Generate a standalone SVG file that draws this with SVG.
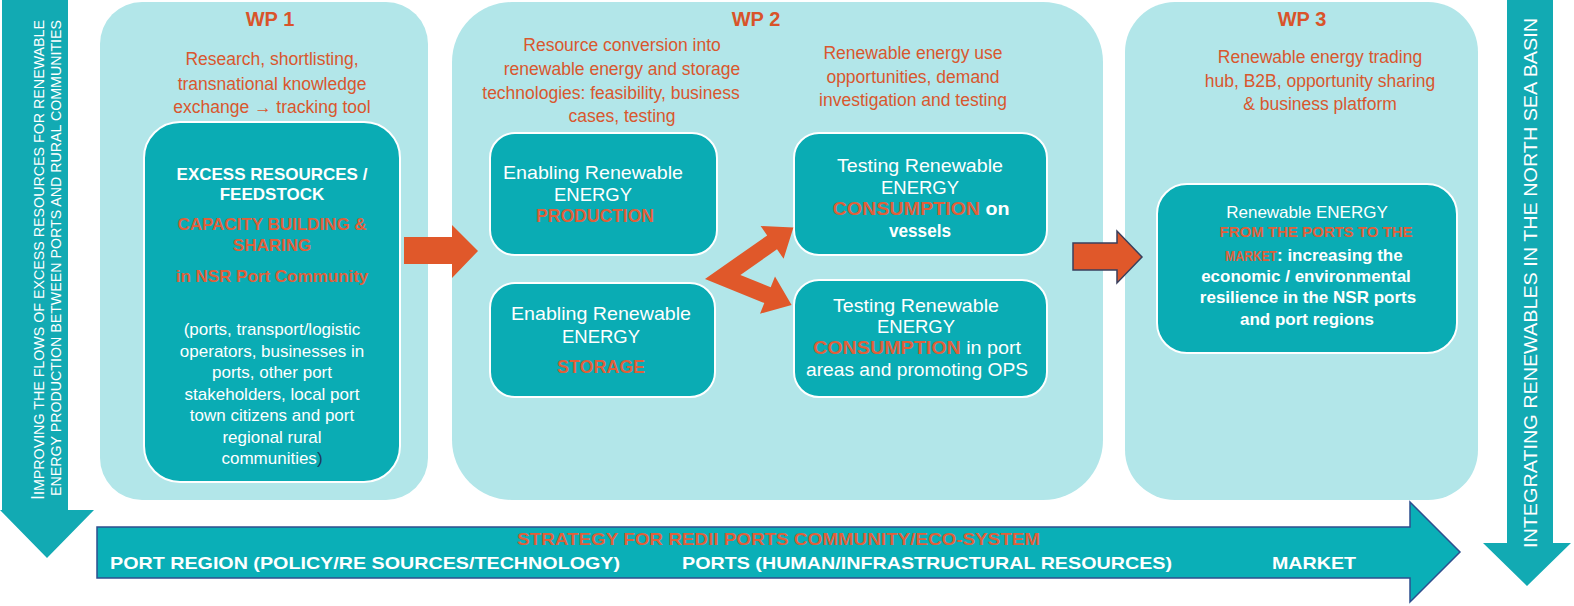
<svg xmlns="http://www.w3.org/2000/svg" width="1574" height="606" viewBox="0 0 1574 606">
<style>
  .panel { fill: #b2e6e9; }
  .box { fill: #0aacb4; stroke: #ffffff; stroke-width: 2; }
  .t { font-family: "Liberation Sans", Arial, sans-serif; }
  .head { font-family: "Liberation Sans", Arial, sans-serif; font-weight: bold; font-size: 20px; fill: #d9542a; text-anchor: middle; }
  .sub { font-family: "Liberation Sans", Arial, sans-serif; font-size: 17.5px; fill: #d9572e; text-anchor: middle; }
  .w { fill: #ffffff; }
  .wb { fill: #ffffff; font-weight: bold; }
  .ob { fill: #e0603a; font-weight: bold; }
  .mid { text-anchor: middle; }
  .orangeArrow { fill: #e0582a; }
</style>

<!-- side arrows -->
<g id="left-arrow">
  <polygon points="2,0 68,0 68,510 94,510 47,558 0,510 2,510" fill="#12aab3"/>
  <text class="t w" font-size="14.5" transform="translate(44,260) rotate(-90)" text-anchor="middle" textLength="480" lengthAdjust="spacingAndGlyphs"><tspan font-size="18">I</tspan>IMPROVING THE FLOWS OF EXCESS RESOURCES FOR RENEWABLE</text>
  <text class="t w" font-size="14.5" transform="translate(61,258) rotate(-90)" text-anchor="middle" textLength="476" lengthAdjust="spacingAndGlyphs">ENERGY  PRODUCTION BETWEEN PORTS AND RURAL COMMUNITIES</text>
</g>
<g id="right-arrow">
  <polygon points="1507,0 1553,0 1553,543 1571,543 1527,586 1483,543 1507,543" fill="#12aab3"/>
  <text class="t w" font-size="18" transform="translate(1537,283) rotate(-90)" text-anchor="middle" textLength="530" lengthAdjust="spacingAndGlyphs">INTEGRATING RENEWABLES IN THE NORTH SEA BASIN</text>
</g>

<!-- WP panels -->
<g id="wp1">
  <rect class="panel" x="100" y="2" width="328" height="498" rx="42"/>
  <text class="head" x="270" y="26">WP 1</text>
  <text class="sub" x="272" y="65">Research, shortlisting,</text>
  <text class="sub" x="272" y="90">transnational knowledge</text>
  <text class="sub" x="272" y="113">exchange → tracking tool</text>
</g>
<g id="wp2">
  <rect class="panel" x="452" y="2" width="651" height="498" rx="60"/>
  <text class="head" x="756" y="26">WP 2</text>
  <text class="sub" font-size="17" x="622" y="51">Resource conversion into</text>
  <text class="sub" font-size="17" x="622" y="75">renewable energy and storage</text>
  <text class="sub" font-size="17" x="611" y="99">technologies: feasibility, business</text>
  <text class="sub" font-size="17" x="622" y="122">cases, testing</text>
  <text class="sub" font-size="17" x="913" y="59">Renewable energy use</text>
  <text class="sub" font-size="17" x="913" y="83">opportunities, demand</text>
  <text class="sub" font-size="17" x="913" y="106">investigation and testing</text>
</g>
<g id="wp3">
  <rect class="panel" x="1125" y="2" width="353" height="498" rx="50"/>
  <text class="head" x="1302" y="26">WP 3</text>
  <text class="sub" font-size="17" x="1320" y="63">Renewable energy trading</text>
  <text class="sub" font-size="17" x="1320" y="87">hub, B2B, opportunity sharing</text>
  <text class="sub" font-size="17" x="1320" y="110">&amp; business platform</text>
</g>

<!-- inner nodes -->
<g id="excess-resources">
  <rect class="box" x="144" y="122" width="256" height="360" rx="36"/>
  <text class="t wb mid" font-size="17" x="272" y="180">EXCESS RESOURCES /</text>
  <text class="t wb mid" font-size="17" x="272" y="200">FEEDSTOCK</text>
  <text class="t ob mid" font-size="17" x="272" y="230">CAPACITY BUILDING &amp;</text>
  <text class="t ob mid" font-size="17" x="272" y="251">SHARING</text>
  <text class="t ob mid" font-size="17" x="272" y="282">in NSR Port Community</text>
  <text class="t w mid" font-size="17" x="272" y="335">(ports, transport/logistic</text>
  <text class="t w mid" font-size="17" x="272" y="357">operators, businesses in</text>
  <text class="t w mid" font-size="17" x="272" y="378">ports, other port</text>
  <text class="t w mid" font-size="17" x="272" y="400">stakeholders, local port</text>
  <text class="t w mid" font-size="17" x="272" y="421">town citizens and port</text>
  <text class="t w mid" font-size="17" x="272" y="443">regional rural</text>
  <text class="t w mid" font-size="17" x="272" y="464">communities<tspan fill="#1f3b5a">)</tspan></text>
</g>
<g id="production">
  <rect class="box" x="490" y="133" width="227" height="122" rx="25"/>
  <text class="t w mid" font-size="18.5" x="593" y="179" textLength="180" lengthAdjust="spacingAndGlyphs">Enabling Renewable</text>
  <text class="t w mid" font-size="18.5" x="593" y="201" textLength="78" lengthAdjust="spacingAndGlyphs">ENERGY</text>
  <text class="t ob mid" font-size="18.5" x="595" y="222" textLength="118" lengthAdjust="spacingAndGlyphs">PRODUCTION</text>
</g>
<g id="storage">
  <rect class="box" x="490" y="283" width="225" height="114" rx="25"/>
  <text class="t w mid" font-size="18.5" x="601" y="320" textLength="180" lengthAdjust="spacingAndGlyphs">Enabling Renewable</text>
  <text class="t w mid" font-size="18.5" x="601" y="343" textLength="78" lengthAdjust="spacingAndGlyphs">ENERGY</text>
  <text class="t ob mid" font-size="18.5" x="601" y="373" textLength="88" lengthAdjust="spacingAndGlyphs">STORAGE</text>
</g>
<g id="consumption-vessels">
  <rect class="box" x="794" y="133" width="253" height="122" rx="25"/>
  <text class="t w mid" font-size="18.5" x="920" y="172" textLength="166" lengthAdjust="spacingAndGlyphs">Testing Renewable</text>
  <text class="t w mid" font-size="18.5" x="920" y="194" textLength="78" lengthAdjust="spacingAndGlyphs">ENERGY</text>
  <text class="t mid" font-size="18.5" x="921" y="215" textLength="177" lengthAdjust="spacingAndGlyphs"><tspan class="ob">CONSUMPTION</tspan><tspan class="wb"> on</tspan></text>
  <text class="t wb mid" font-size="18.5" x="920" y="237" textLength="62" lengthAdjust="spacingAndGlyphs">vessels</text>
</g>
<g id="consumption-port">
  <rect class="box" x="794" y="280" width="253" height="117" rx="25"/>
  <text class="t w mid" font-size="18.5" x="916" y="312" textLength="166" lengthAdjust="spacingAndGlyphs">Testing Renewable</text>
  <text class="t w mid" font-size="18.5" x="916" y="333" textLength="78" lengthAdjust="spacingAndGlyphs">ENERGY</text>
  <text class="t mid" font-size="18.5" x="917" y="354" textLength="208" lengthAdjust="spacingAndGlyphs"><tspan class="ob">CONSUMPTION</tspan><tspan class="w"> in port</tspan></text>
  <text class="t w mid" font-size="18.5" x="917" y="376" textLength="222" lengthAdjust="spacingAndGlyphs">areas and promoting OPS</text>
</g>
<g id="market-node">
  <rect class="box" x="1157" y="184" width="300" height="169" rx="30"/>
  <text class="t w mid" font-size="17" x="1307" y="218">Renewable ENERGY</text>
  <text class="t ob mid" font-size="15" x="1316" y="237" textLength="193" lengthAdjust="spacingAndGlyphs">FROM THE PORTS TO THE</text>
  <text class="t" font-size="17" x="1225" y="261"><tspan class="ob" font-size="15" textLength="52" lengthAdjust="spacingAndGlyphs">MARKET</tspan><tspan class="wb">: increasing the</tspan></text>
  <text class="t wb mid" font-size="17" x="1306" y="282">economic / environmental</text>
  <text class="t wb mid" font-size="17" x="1308" y="303">resilience in the NSR ports</text>
  <text class="t wb mid" font-size="17" x="1307" y="325">and port regions</text>
</g>

<!-- connectors -->
<g id="connectors">
  <polygon class="orangeArrow" points="404,237 452,237 452,225 478,251 452,278 452,264 404,264"/>
  <polygon class="orangeArrow" points="705,279 767.2,235.4 760.6,226 793.4,227.5 783.6,258.7 777,249.3 740.4,275 770.7,287.2 775,276.5 791.6,304.9 760,313.7 764.3,303"/>
  <polygon class="orangeArrow" points="1073,243 1117,243 1117,231 1142,257 1117,283 1117,270 1073,270" stroke="#3a3f5c" stroke-width="1.5"/>
</g>

<!-- bottom strategy arrow -->
<g id="strategy-arrow">
  <polygon points="97,527 1410,527 1410,502 1460,552 1410,602 1410,578 97,578" fill="#0aafb7" stroke="#2e4f8f" stroke-width="1.5"/>
  <text class="t ob" font-size="17" x="517" y="545" textLength="523" lengthAdjust="spacingAndGlyphs">STRATEGY FOR REDII PORTS COMMUNITY/ECO-SYSTEM</text>
  <text class="t wb" font-size="17" x="110" y="569" textLength="510" lengthAdjust="spacingAndGlyphs">PORT REGION (POLICY/RE SOURCES/TECHNOLOGY)</text>
  <text class="t wb" font-size="17" x="682" y="569" textLength="490" lengthAdjust="spacingAndGlyphs">PORTS (HUMAN/INFRASTRUCTURAL RESOURCES)</text>
  <text class="t wb" font-size="17" x="1272" y="569" textLength="84" lengthAdjust="spacingAndGlyphs">MARKET</text>
</g>
</svg>
